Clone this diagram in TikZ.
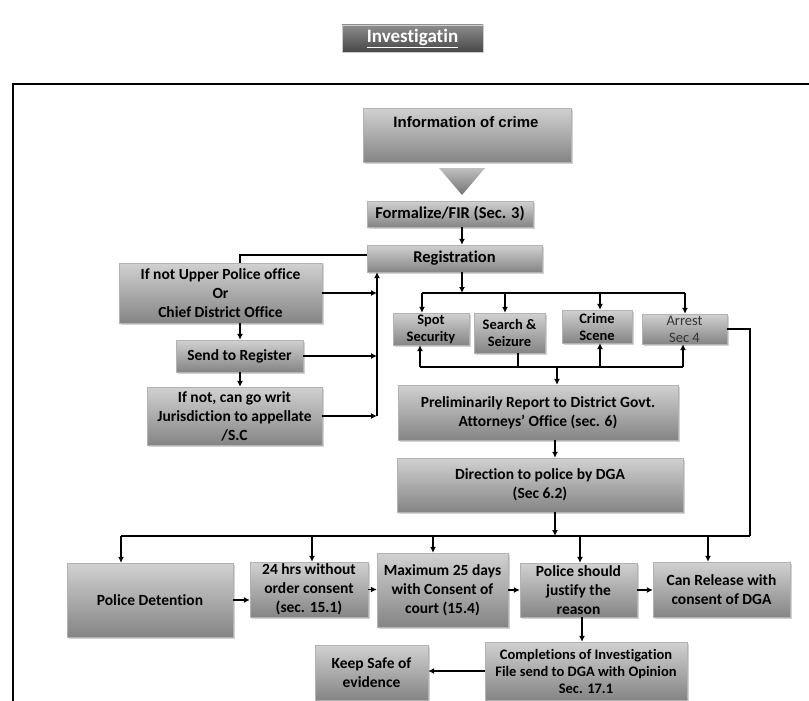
\documentclass[tikz,border=0pt]{standalone}
\usepackage{fontspec}
\setmainfont{Carlito}[Ligatures={TeX,NoCommon}]
\newfontfamily\arialf{Liberation Sans}
\usetikzlibrary{arrows.meta,shadows}
\begin{document}
\begin{tikzpicture}[x=1pt,y=-1pt,
  box/.style={rectangle, inner sep=0pt, top color=black!18, bottom color=black!48,
    draw=black!30, line width=0.4pt,
    drop shadow={shadow xshift=1.6pt, shadow yshift=-1.6pt, opacity=0.35},
    align=center, font=\fontsize{15.5}{19}\selectfont\bfseries},
  big/.style={font=\fontsize{16.5}{19}\selectfont\bfseries},
  small/.style={font=\fontsize{14.5}{17}\selectfont\bfseries},
  titlebox/.style={rectangle, inner sep=0pt, top color=black!45, bottom color=black!72,
    draw=black!20, line width=0.8pt, text=white, font=\fontsize{19}{22}\selectfont\bfseries},
  ln/.style={line width=1.8pt},
  arr/.style={ln, -{Latex[length=6pt,width=6pt]}},
]
\useasboundingbox (0,0) rectangle (809,701);
\fill[white] (0,0) rectangle (809,701);

% frame
\draw[line width=2.5pt] (13,701) -- (13,84) -- (809,84);

% title
\node[titlebox, minimum width=141pt, minimum height=27pt] (title) at (412.5,38.5) {\underline{Investigatin}};

% top
\node[box, minimum width=208pt, minimum height=54pt] (info) at (467,135) {};
\node[font=\arialf\bfseries\fontsize{15}{18}\selectfont] (infotxt) at (466,122) {Information of crime};
\shade[top color=black!25, bottom color=black!55] (439,168) -- (485,168) -- (462,195) -- cycle;

\node[box, big, minimum width=166pt, minimum height=26pt] (formal) at (450,214) {Formalize/FIR (Sec. 3)};
\node[box, big, minimum width=175pt, minimum height=27pt] (reg) at (454.5,258.5) {Registration};

% left column
\node[box, minimum width=203pt, minimum height=60pt] (ifnot) at (220.5,293) {If not Upper Police office\\Or\\Chief District Office};
\node[box, minimum width=127pt, minimum height=32pt] (send) at (239.5,356) {Send to Register};
\node[box, minimum width=175pt, minimum height=58pt] (ifcan) at (234.5,416) {If not, can go writ\\Jurisdiction to appellate\\/S.C};

% four actions
\node[box, small, minimum width=76pt, minimum height=32pt] (spot) at (431,329) {Spot\\Security};
\node[box, small, minimum width=71pt, minimum height=40pt] (seiz) at (509.5,333) {Search \&\\Seizure};
\node[box, small, minimum width=70pt, minimum height=33pt] (crime) at (597,326.5) {Crime\\Scene};
\node[box, minimum width=85pt, minimum height=30pt, font=\fontsize{14.5}{17}\selectfont, text=black!80] (arrest) at (684.5,329) {Arrest\\Sec 4};

% middle
\node[box, minimum width=280pt, minimum height=55pt] (prelim) at (538,412.5) {Preliminarily Report to District Govt.\\Attorneys' Office (sec. 6)};
\node[box, minimum width=286pt, minimum height=54pt] (dir) at (540,485) {Direction to police by DGA\\(Sec 6.2)};

% bottom row
\node[box, minimum width=166pt, minimum height=74pt] (pdet) at (150,600) {Police Detention};
\node[box, minimum width=118pt, minimum height=55pt] (h24) at (309,589.5) {24 hrs without\\order consent\\(sec. 15.1)};
\node[box, minimum width=131pt, minimum height=74pt] (max) at (442.5,590) {Maximum 25 days\\with Consent of\\court (15.4)};
\node[box, minimum width=117pt, minimum height=54pt] (just) at (578.5,590) {Police should\\justify the\\reason};
\node[box, minimum width=137pt, minimum height=55pt] (canrel) at (721.5,589.5) {Can Release with\\consent of DGA};
\node[box, small, minimum width=202pt, minimum height=58pt] (compl) at (586,671) {Completions of Investigation\\File send to DGA with Opinion\\Sec. 17.1};
\node[box, minimum width=113pt, minimum height=55pt] (keep) at (371.5,672.5) {Keep Safe of\\evidence};

% helper coordinates
\coordinate (a462) at (462,0);
\coordinate (tbJ) at (462,293);
\coordinate (tbL) at (422,293);
\coordinate (tbS) at (505,293);
\coordinate (tbC) at (600,293);
\coordinate (tbR) at (685,293);
\coordinate (lbL) at (420,367);
\coordinate (lbS) at (518,367);
\coordinate (lbP) at (557,367);
\coordinate (lbC) at (600,367);
\coordinate (lbR) at (683,367);
\coordinate (c555) at (555,0);
\coordinate (bbJ) at (555,536);
\coordinate (bbL) at (121,536);
\coordinate (bbR) at (750,536);
\coordinate (b312) at (312,536);
\coordinate (b433) at (433,536);
\coordinate (b580) at (580,536);
\coordinate (b708) at (708,536);
\coordinate (c582) at (582,0);
\coordinate (c240) at (240,0);
\coordinate (lt) at (240,255);
\coordinate (vb) at (377,416);

% connectors top
\draw[arr] (formal.south -| a462) -- (reg.north -| a462);
\draw[arr] (reg.south -| a462) -- (tbJ);
\draw[ln] (tbL) -- (tbR);
\draw[arr] (tbL) -- (spot.north -| tbL);
\draw[arr] (tbS) -- (seiz.north -| tbS);
\draw[arr] (tbC) -- (crime.north -| tbC);
\draw[arr] (tbR) -- (arrest.north -| tbR);

% lower bus of actions
\draw[ln] (lbL) -- (lbR);
\draw[arr] (lbL) -- (spot.south -| lbL);
\draw[ln] (seiz.south -| lbS) -- (lbS);
\draw[arr] (lbC) -- (crime.south -| lbC);
\draw[arr] (lbR) -- (arrest.south -| lbR);
\draw[arr] (lbP) -- (prelim.north -| lbP);

\draw[arr] (prelim.south -| c555) -- (dir.north -| c555);

% bottom bus
\draw[arr] (dir.south -| bbJ) -- (bbJ);
\draw[ln] (bbL) -- (bbR);
\draw[ln] (arrest.east) -- (arrest.east -| bbR) -- (bbR);
\draw[arr] (bbL) -- (pdet.north -| bbL);
\draw[arr] (b312) -- (h24.north -| b312);
\draw[arr] (b433) -- (max.north -| b433);
\draw[arr] (b580) -- (just.north -| b580);
\draw[arr] (b708) -- (canrel.north -| b708);

% bottom row
\draw[arr] (pdet.east) -- (pdet.east -| h24.west);
\draw[arr] (h24.east) -- (h24.east -| max.west);
\draw[arr] (max.east) -- (max.east -| just.west);
\draw[arr] (just.east) -- (just.east -| canrel.west);
\draw[arr] (just.south -| c582) -- (compl.north -| c582);
\draw[arr] (compl.west) -- (compl.west -| keep.east);

% left column
\draw[ln] (ifnot.north -| lt) -- (lt) -- (lt -| reg.west);
\draw[arr] (ifnot.south -| c240) -- (send.north -| c240);
\draw[arr] (send.south -| c240) -- (ifcan.north -| c240);
\draw[arr] (vb) -- (reg.south -| vb);
\draw[arr] (ifnot.east) -- (ifnot.east -| vb);
\draw[arr] (send.east) -- (send.east -| vb);
\draw[arr] (ifcan.east) -- (vb);
\end{tikzpicture}
\end{document}
